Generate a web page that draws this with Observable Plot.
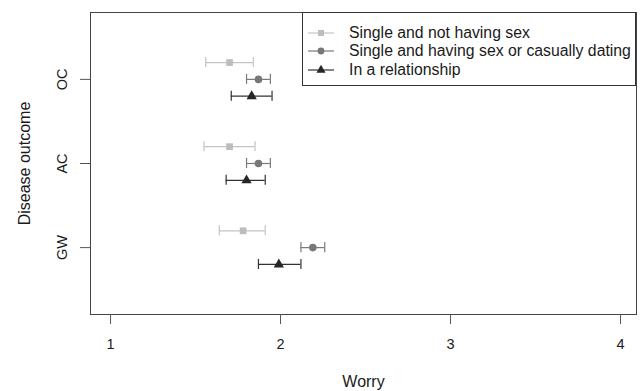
<!DOCTYPE html>
<html>
<head>
<meta charset="utf-8">
<script src="https://cdn.jsdelivr.net/npm/d3@7"></script>
<script src="https://cdn.jsdelivr.net/npm/@observablehq/plot@0.6"></script>
<style>
  body { margin: 0; background: #fff; font-family: "Liberation Sans", Arial, sans-serif; }
  #wrap { position: relative; width: 643px; height: 391px; }
  #legend { position: absolute; left: 302px; top: 12px; width: 334px; height: 74px; border: 1px solid #333; background: #fff; box-sizing: border-box; }
  .row { position: absolute; left: 0; height: 18px; display: flex; align-items: center; }
  .row svg { margin-left: 4px; }
  .row span { margin-left: 14px; font-size: 15.8px; color: #1a1a1a; white-space: nowrap; }
</style>
</head>
<body>
<div id="wrap"><div id="chart"></div><div id="legend"></div></div>
<script>
// ---- data ----
const outcomes = ["OC", "AC", "GW"];
const groups = ["Single and not having sex", "Single and having sex or casually dating", "In a relationship"];
const singleNoSexMean = [1.70, 1.70, 1.78];
const singleNoSexLow  = [1.56, 1.55, 1.64];
const singleNoSexHigh = [1.84, 1.85, 1.91];
const casualMean = [1.87, 1.87, 2.19];
const casualLow  = [1.80, 1.80, 2.12];
const casualHigh = [1.94, 1.94, 2.26];
const relMean = [1.83, 1.80, 1.99];
const relLow  = [1.71, 1.68, 1.87];
const relHigh = [1.95, 1.91, 2.12];
const xTicks = [1, 2, 3, 4];

// ---- styling ----
const colors = ["#bdbdbd", "#777777", "#262626"];
const barColors = ["#c4c4c4", "#7a7a7a", "#333333"];
const symbols = ["square", "circle", "triangle"];
const offsets = [0.2, 0, -0.2];
const cap = 0.06;

const means = [singleNoSexMean, casualMean, relMean];
const lows = [singleNoSexLow, casualLow, relLow];
const highs = [singleNoSexHigh, casualHigh, relHigh];

const rows = [];
groups.forEach((g, gi) => outcomes.forEach((o, oi) => rows.push({
  group: g, outcome: o,
  mean: means[gi][oi], lo: lows[gi][oi], hi: highs[gi][oi],
  pos: (outcomes.length - oi) + offsets[gi],
  bar: barColors[gi]
})));

const chart = Plot.plot({
  width: 643, height: 391,
  marginLeft: 90, marginRight: 7, marginTop: 12, marginBottom: 77,
  style: { fontFamily: "Liberation Sans, Arial, sans-serif", fontSize: "14px", color: "#1a1a1a", background: "#fff" },
  x: { domain: [0.882, 4.094] },
  y: { domain: [0.205, 3.795] },
  color: { domain: groups, range: colors },
  symbol: { domain: groups, range: symbols },
  marks: [
    Plot.frame({ stroke: "#444" }),
    Plot.ruleY(rows, { y: "pos", x1: "lo", x2: "hi", stroke: "bar", strokeWidth: 1.2 }),
    Plot.ruleX(rows, { x: "lo", y1: d => d.pos - cap, y2: d => d.pos + cap, stroke: "bar", strokeWidth: 1.2 }),
    Plot.ruleX(rows, { x: "hi", y1: d => d.pos - cap, y2: d => d.pos + cap, stroke: "bar", strokeWidth: 1.2 }),
    Plot.dot(rows, { x: "mean", y: "pos", symbol: "group", fill: "group", r: 3.8, stroke: "none" }),
    Plot.axisX({ ticks: xTicks, tickFormat: d3.format("d"), tickSize: 10, tickPadding: 14, stroke: "#555",
      label: "Worry", labelAnchor: "center", labelOffset: 72, labelArrow: "none" }),
    Plot.axisY({ ticks: [1, 2, 3], tickFormat: v => outcomes[outcomes.length - v], tickSize: 10, tickPadding: 14,
      tickRotate: -90, stroke: "#555",
      label: "Disease outcome", labelAnchor: "center", labelOffset: 72, labelArrow: "none" })
  ]
});
// font sizes of tick labels and axis titles
chart.querySelectorAll("text").forEach(t => {
  if (t.textContent === "Worry" || t.textContent === "Disease outcome") t.style.fontSize = "16px";
  else t.style.fontSize = "14.5px";
});
document.getElementById("chart").appendChild(chart);

// ---- legend ----
const legend = document.getElementById("legend");
const rowTops = [11, 29, 48];
groups.forEach((g, i) => {
  const row = document.createElement("div");
  row.className = "row";
  row.style.top = rowTops[i] + "px";
  const sw = d3.create("svg").attr("width", 28).attr("height", 18);
  sw.append("line").attr("x1", 1).attr("x2", 27).attr("y1", 9).attr("y2", 9).attr("stroke", barColors[i]).attr("stroke-width", 1.2);
  const sym = [d3.symbolSquare, d3.symbolCircle, d3.symbolTriangle][i];
  sw.append("path").attr("d", d3.symbol(sym, Math.PI * 3.4 * 3.4)()).attr("transform", "translate(14,9)").attr("fill", colors[i]);
  row.appendChild(sw.node());
  const span = document.createElement("span");
  span.textContent = g;
  row.appendChild(span);
  legend.appendChild(row);
});
</script>
</body>
</html>
